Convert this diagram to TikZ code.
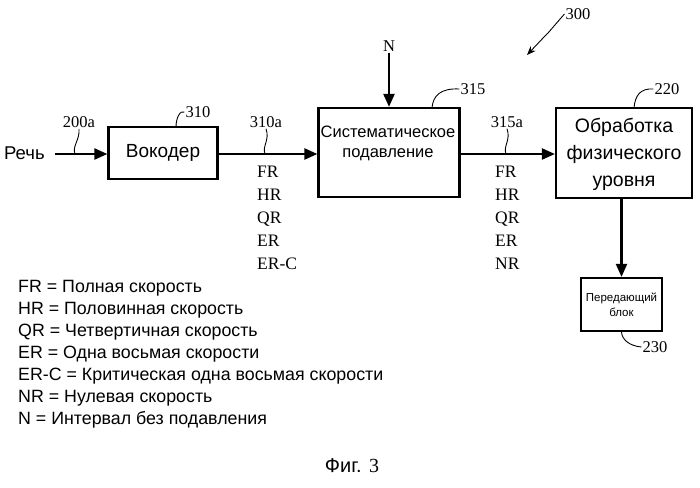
\documentclass[tikz,border=0pt]{standalone}
\usepackage{fontspec}
\setmainfont{Liberation Sans}
\newfontfamily\tnr{Liberation Serif}
\usetikzlibrary{arrows.meta}
\begin{document}
\begin{tikzpicture}[x=1pt,y=-1pt,
  box/.style={draw,line width=2.2pt,inner sep=0pt},
  flow/.style={line width=2.2pt,-{Triangle[length=13pt,width=11pt]}},
  lead/.style={line width=0.9pt},
  num/.style={font=\tnr\fontsize{16.5}{18}\selectfont,inner sep=1pt},
  rate/.style={font=\tnr\fontsize{17.5}{23}\selectfont,align=left,anchor=north west,inner sep=0pt},
  lbl/.style={font=\fontsize{19}{22}\selectfont,align=center}]
\useasboundingbox (0,0) rectangle (700,487);
\node[box,minimum width=109pt,minimum height=52pt,lbl] (voc) at (163,153) {Вокодер};
\node[box,minimum width=141pt,minimum height=89pt] (sys) at (389,152.5) {};
\node[lbl,font=\fontsize{16.5}{20}\selectfont] (syst) at (388,143) {Систематическое\\подавление};
\node[box,minimum width=136pt,minimum height=90pt] (phy) at (624,153) {};
\node[lbl,font=\fontsize{19.5}{27}\selectfont] (phyt) at (624,154) {Обработка\\физического\\уровня};
\node[box,minimum width=81pt,minimum height=53pt,font=\fontsize{11.5}{15}\selectfont,align=center] (tx) at (621.5,304.5) {Передающий\\блок};
\node[font=\fontsize{18.5}{22}\selectfont,anchor=west,inner sep=0pt] (speech) at (4,153) {Речь};
\node[num] (n) at (389,46) {N};
\coordinate (sin) at (55,154);
\draw[flow] (sin) -- (voc.west|-sin);
\draw[flow] (voc.east|-sin) -- (sys.west|-sin);
\draw[flow] (sys.east|-sin) -- (phy.west|-sin);
\draw[flow] (n.south) -- (sys.north);
\draw[flow] (phy.south-|tx) -- (tx.north);
% numbers
\node[num] (l200) at (79,122) {200a};
\node[num] (l310a) at (266,122) {310a};
\node[num] (l315a) at (507,122) {315a};
\node[num] (l310) at (198,112) {310};
\node[num] (l315) at (473,89) {315};
\node[num] (l220) at (667,89) {220};
\node[num] (l230) at (655,347) {230};
\node[num] (l300) at (578,14) {300};
\draw[lead] (l200.south) .. controls (80,140) and (72,146) .. (75,154);
\draw[lead] (l310a.south) .. controls (270,140) and (262,146) .. (265,154);
\draw[lead] (l315a.south) .. controls (511,140) and (503,146) .. (506,154);
\draw[lead] (l310.west) .. controls (180,110) and (176,118) .. (176,127);
\draw[lead] (l315.west) .. controls (440,88) and (433,96) .. (432,108);
\draw[lead] (l220.west) .. controls (640,88) and (635,96) .. (634,108);
\draw[lead] (tx.south) .. controls (622,340) and (630,346) .. (l230.west);
\draw[lead,-{Stealth[length=9pt,width=7pt]}] (l300.west) -- (548,33) -- (544,37) -- (527,55);
% rates
\node[rate] (r1) at (257,166) {FR\\HR\\QR\\ER\\ER-C};
\node[rate] (r2) at (495,166) {FR\\HR\\QR\\ER\\NR};
\node[font=\fontsize{17.8}{22}\selectfont,align=left,anchor=north west,inner sep=0pt] (leg) at (18,280) {FR = Полная скорость\\HR = Половинная скорость\\QR = Четвертичная скорость\\ER = Одна восьмая скорости\\ER-C = Критическая одна восьмая скорости\\NR = Нулевая скорость\\N = Интервал без подавления};
\node[font=\fontsize{20}{24}\selectfont] (fig) at (352,466) {Фиг. {\tnr 3}};
\end{tikzpicture}
\end{document}
